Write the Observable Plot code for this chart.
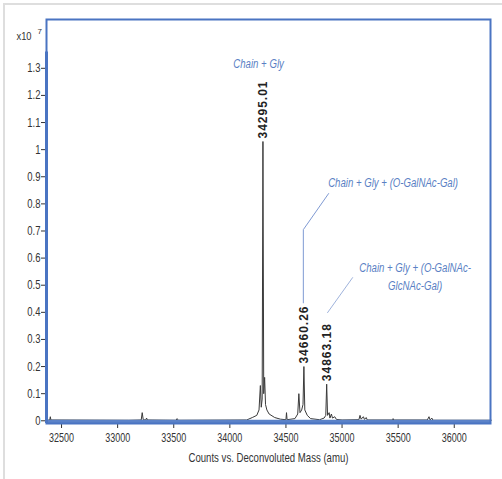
<!DOCTYPE html>
<html>
<head>
<meta charset="utf-8">
<script src="https://cdn.jsdelivr.net/npm/d3@7"></script>
<script src="https://cdn.jsdelivr.net/npm/@observablehq/plot@0.6"></script>
<style>
  html, body { margin: 0; padding: 0; background: #fff; }
  #wrap { position: relative; width: 502px; height: 479px; overflow: hidden; }
  #edge { position: absolute; left: 3px; top: 3px; width: 499px; height: 476px;
          border-left: 2px solid #dedede; border-top: 2px solid #dedede; box-sizing: border-box; }
  #chart { position: absolute; left: 0; top: 0; }
</style>
</head>
<body>
<div id="wrap"><div id="edge"></div><div id="chart"></div></div>
<script>
// Deconvoluted mass spectrum (intensity in units of 1e7 counts)
const masses = [32370, 32395, 32400, 32405, 33100, 33210, 33219, 33228, 33250, 33258, 33265,
  33520, 33530, 33540, 34150, 34200, 34240, 34260, 34272, 34280, 34288, 34295, 34302, 34310,
  34318, 34330, 34350, 34400, 34450, 34500, 34505, 34510, 34580, 34605, 34615, 34625, 34640,
  34652, 34660, 34668, 34690, 34720, 34800, 34840, 34855, 34863, 34871, 34885, 34892, 34905,
  34915, 34935, 34950, 35000, 35150, 35160, 35170, 35190, 35200, 35215, 35225, 35450, 35455,
  35460, 35760, 35775, 35785, 35800, 35810, 36330];
const intensities = [0.002, 0.003, 0.015, 0.003, 0.002, 0.003, 0.03, 0.004, 0.003, 0.01, 0.003,
  0.002, 0.008, 0.002, 0.003, 0.012, 0.02, 0.04, 0.13, 0.05, 0.08, 1.03, 0.1, 0.16,
  0.06, 0.04, 0.025, 0.012, 0.006, 0.004, 0.03, 0.004, 0.008, 0.025, 0.10, 0.03, 0.04,
  0.06, 0.20, 0.04, 0.02, 0.008, 0.004, 0.01, 0.02, 0.135, 0.02, 0.03, 0.01, 0.025,
  0.01, 0.015, 0.005, 0.003, 0.004, 0.02, 0.006, 0.015, 0.005, 0.012, 0.003, 0.003, 0.008,
  0.003, 0.003, 0.015, 0.003, 0.01, 0.002, 0.002];

// Peak labels
const peakMasses = [34295, 34660, 34863];
const peakHeights = [1.03, 0.20, 0.135];
const peakLabels = ["34295.01", "34660.26", "34863.18"];

// Annotations (blue italic)
const noteTexts = ["Chain + Gly", "Chain + Gly + (O-GalNAc-Gal)", "Chain + Gly + (O-GalNAc-", "GlcNAc-Gal)"];
const noteMasses = [34256, 35455, 35651, 35651];
const noteIntensities = [1.317, 0.878, 0.565, 0.498];

// Leader lines
const leader1Mass = [34880, 34655, 34655];
const leader1Int = [0.838, 0.705, 0.435];
const leader2Mass = [35094, 34871];
const leader2Int = [0.528, 0.399];

// Axis ticks
const xTicks = [32500, 33000, 33500, 34000, 34500, 35000, 35500, 36000];
const yTicks = [0, 0.1, 0.2, 0.3, 0.4, 0.5, 0.6, 0.7, 0.8, 0.9, 1, 1.1, 1.2, 1.3];
const yTickLabels = ["0", "0.1", "0.2", "0.3", "0.4", "0.5", "0.6", "0.7", "0.8", "0.9", "1", "1.1", "1.2", "1.3"];
const xTitle = "Counts vs. Deconvoluted Mass (amu)";
const multText = "x10";
const expText = "7";

const spectrum = masses.map((m, i) => ({mass: m, intensity: intensities[i]}));
const peaks = peakMasses.map((m, i) => ({mass: m, h: peakHeights[i], label: peakLabels[i]}));
const notes = noteTexts.map((t, i) => ({text: t, mass: noteMasses[i], y: noteIntensities[i]}));
const leader1 = leader1Mass.map((m, i) => ({mass: m, y: leader1Int[i]}));
const leader2 = leader2Mass.map((m, i) => ({mass: m, y: leader2Int[i]}));

const sans = "'Liberation Sans', Arial, sans-serif";
const blue = "#4a74c2";

const chart = Plot.plot({
  width: 502, height: 479,
  marginLeft: 46, marginRight: 12, marginTop: 19, marginBottom: 56,
  style: {fontFamily: sans, fontSize: "12.5px", color: "#333", background: "transparent"},
  x: {domain: [32366, 36323]},
  y: {domain: [-0.01, 1.48]},
  marks: [
    Plot.axisY({ticks: yTicks, tickFormat: d => yTickLabels[yTicks.indexOf(d)], tickSize: 5, tickPadding: 1, label: null, fontSize: 12.5}),
    Plot.axisX({ticks: xTicks, tickFormat: d => String(d), tickSize: 5, tickPadding: 5, label: null, fontSize: 12.5}),
    Plot.text([xTitle], {frameAnchor: "bottom", dy: 38, text: d => d, fontSize: 12, fill: "#333"}),
    Plot.text([multText], {frameAnchor: "top-left", dx: -30, dy: 13, text: d => d, fontSize: 11, fill: "#333"}),
    Plot.text([expText], {frameAnchor: "top-left", dx: -9, dy: 9, text: d => d, fontSize: 8, fill: "#333"}),
    Plot.line(spectrum, {x: "mass", y: "intensity", stroke: "#3a3a3a", strokeWidth: 1}),
    Plot.ruleY([-0.004], {stroke: "#5b82c8", strokeWidth: 4}),
    Plot.frame({stroke: blue, strokeWidth: 2}),
    Plot.ruleX([32366], {y1: -0.01, y2: 1.36, stroke: blue, strokeWidth: 3}),
    Plot.text(peaks, {x: "mass", y: "h", text: "label", rotate: -90, textAnchor: "start", lineAnchor: "middle",
      dy: -3, fontFamily: sans, fontWeight: "bold", fontSize: 12, fill: "#222"}),
    Plot.line(leader1, {x: "mass", y: "y", stroke: "#7f9ad3", strokeWidth: 1}),
    Plot.line(leader2, {x: "mass", y: "y", stroke: "#9fb3dc", strokeWidth: 1}),
    Plot.text(notes, {x: "mass", y: "y", text: "text", fill: "#5a7fc4", fontStyle: "italic",
      fontFamily: sans, fontSize: 13.5})
  ]
});
document.getElementById("chart").appendChild(chart);

// condense texts horizontally (about their anchor) to imitate the narrow fonts of the original
function condense(t, f) {
  const ax = parseFloat(t.getAttribute("x") || "0");
  const prev = t.getAttribute("transform") || "";
  t.setAttribute("transform", `${prev} translate(${ax},0) scale(${f},1) translate(${-ax},0)`.trim());
}
chart.querySelectorAll("text").forEach(t => {
  const g = t.closest("g[aria-label]");
  const lab = g ? g.getAttribute("aria-label") : "";
  const s = t.textContent;
  if (lab === "y-axis tick label") condense(t, 0.76);
  else if (lab === "x-axis tick label") condense(t, 0.72);
  else if (s === xTitle) condense(t, 0.8);
  else if (s === multText) condense(t, 0.85);
  else if (noteTexts.includes(s)) condense(t, 0.713);
  else if (peakLabels.includes(s)) t.style.letterSpacing = "1px";
});
</script>
</body>
</html>
